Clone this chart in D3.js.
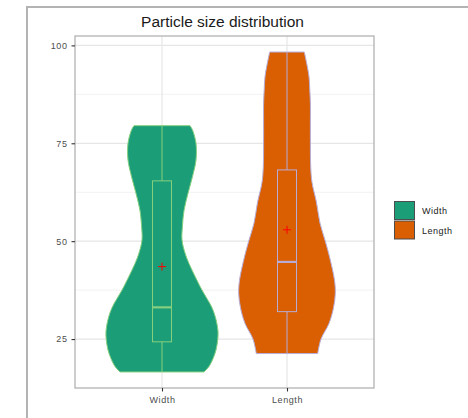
<!DOCTYPE html>
<html lang="en">
<head>
<meta charset="utf-8">
<title>Particle size distribution</title>
<script src="https://cdn.jsdelivr.net/npm/d3@7"></script>
<style>
  body { margin: 0; background: #fff; }
  svg { font-family: "Liberation Sans", Arial, sans-serif; }
</style>
</head>
<body>
<script>
// categories and colours
var groups = ["Width", "Length"];
var fills = ["#1b9e77", "#d95f02"];
var outlines = ["#86cf7f", "#b7acd8"];

// violin outlines: [value, half width (px)]
var widthDensity = [[16.6,42],[18,47],[20,51],[22.2,54],[25,55.8],[27,56],[30,54],[33,50],[37.5,40],[40,35],
  [44.3,27],[47,23],[50.3,20],[54,20.5],[57.8,22],[62.2,26],[66.5,30.5],[70.7,34],[75,34],[78.4,30.5],[79.5,28]];
var lengthDensity = [[21.3,30.7],[25,34],[29,42],[33,46.5],[36.6,48.3],[40,47.5],[46,42.5],[50,38.3],[54.6,33],
  [60,29.4],[65,25],[69,23.7],[75,23.4],[80,23.4],[85,23.4],[88.6,22.8],[92,22],[95,20],[98.3,17.3]];
var densities = [widthDensity, lengthDensity];

// box statistics: min, q1, median, q3, max, mean
var boxMin = [16.6, 21.3];
var boxQ1 = [24.3, 32.0];
var boxMedian = [33.1, 44.7];
var boxQ3 = [65.4, 68.2];
var boxMax = [79.5, 98.3];
var boxMean = [43.5, 52.9];

var yTicks = [25, 50, 75, 100];
var yMinor = [37.5, 62.5, 87.5];

var W = 468, H = 418;
var panel = {left: 75, right: 374, top: 36, bottom: 388};

var svg = d3.select("body").append("svg").attr("width", W).attr("height", H);

// outer frame
svg.append("rect").attr("x", 27).attr("y", 7).attr("width", 600).attr("height", 600)
  .attr("fill", "none").attr("stroke", "#b3b3b3").attr("stroke-width", 2);

var y = d3.scaleLinear().domain([12.5, 102.4]).range([panel.bottom, panel.top]);
var x = d3.scalePoint().domain(groups).range([panel.left, panel.right]).padding(0.696);
var hw = d3.scaleLinear().domain([0, 1]).range([0, 1]); // half widths already in px units

// grid
var g = svg.append("g");
g.selectAll(".minor").data(yMinor).enter().append("line")
  .attr("x1", panel.left).attr("x2", panel.right)
  .attr("y1", function(d) { return y(d); }).attr("y2", function(d) { return y(d); })
  .attr("stroke", "#f2f2f2").attr("stroke-width", 1);
g.selectAll(".major").data(yTicks).enter().append("line")
  .attr("x1", panel.left).attr("x2", panel.right)
  .attr("y1", function(d) { return y(d); }).attr("y2", function(d) { return y(d); })
  .attr("stroke", "#e6e6e6").attr("stroke-width", 1.2);
g.selectAll(".vmajor").data(groups).enter().append("line")
  .attr("y1", panel.top).attr("y2", panel.bottom)
  .attr("x1", function(d) { return x(d); }).attr("x2", function(d) { return x(d); })
  .attr("stroke", "#e6e6e6").attr("stroke-width", 1.2);

// violins
groups.forEach(function(name, i) {
  var cx = x(name);
  var area = d3.area()
    .y(function(d) { return y(d[0]); })
    .x0(function(d) { return cx - hw(d[1]); })
    .x1(function(d) { return cx + hw(d[1]); })
    .curve(d3.curveCatmullRom);
  svg.append("path").datum(densities[i]).attr("d", area)
    .attr("fill", fills[i]).attr("stroke", outlines[i]).attr("stroke-width", 1);

  var bw = 9.5;
  // whiskers
  svg.append("line").attr("x1", cx).attr("x2", cx)
    .attr("y1", y(boxQ3[i])).attr("y2", y(boxMax[i]))
    .attr("stroke", outlines[i]).attr("stroke-width", 1);
  svg.append("line").attr("x1", cx).attr("x2", cx)
    .attr("y1", y(boxQ1[i])).attr("y2", y(boxMin[i]))
    .attr("stroke", outlines[i]).attr("stroke-width", 1);
  // box
  svg.append("rect").attr("x", cx - bw).attr("width", 2 * bw)
    .attr("y", y(boxQ3[i])).attr("height", y(boxQ1[i]) - y(boxQ3[i]))
    .attr("fill", "none").attr("stroke", outlines[i]).attr("stroke-width", 1);
  svg.append("line").attr("x1", cx - bw).attr("x2", cx + bw)
    .attr("y1", y(boxMedian[i])).attr("y2", y(boxMedian[i]))
    .attr("stroke", outlines[i]).attr("stroke-width", 2.2);
  // mean cross
  var my = y(boxMean[i]);
  svg.append("path").attr("d", "M" + (cx - 4) + "," + my + "H" + (cx + 4) + "M" + cx + "," + (my - 4) + "V" + (my + 4))
    .attr("stroke", "#ff0000").attr("stroke-width", 1);
});

// panel border
svg.append("rect").attr("x", panel.left).attr("y", panel.top)
  .attr("width", panel.right - panel.left).attr("height", panel.bottom - panel.top)
  .attr("fill", "none").attr("stroke", "#b3b3b3").attr("stroke-width", 1.3);

// axes
var yAxis = svg.append("g").attr("transform", "translate(" + panel.left + ",0)")
  .call(d3.axisLeft(y).tickValues(yTicks).tickSize(3.5).tickPadding(4));
var xAxis = svg.append("g").attr("transform", "translate(0," + panel.bottom + ")")
  .call(d3.axisBottom(x).tickSize(3.5).tickPadding(5));
[yAxis, xAxis].forEach(function(a) {
  a.select(".domain").remove();
  a.selectAll(".tick line").attr("stroke", "#333").attr("stroke-width", 1.1);
  a.selectAll(".tick text").attr("fill", "#4d4d4d").attr("font-size", "9px")
    .attr("font-family", "Liberation Sans, Arial, sans-serif").style("letter-spacing", "0.6px");
});

// title
svg.append("text").attr("x", 222.5).attr("y", 27)
  .attr("text-anchor", "middle").attr("font-size", "15.5px").attr("fill", "#1a1a1a")
  .text("Particle size distribution");

// legend
var leg = svg.append("g").attr("transform", "translate(394,201)");
groups.forEach(function(name, i) {
  leg.append("rect").attr("x", 0.5).attr("y", i * 19.5 + 0.5).attr("width", 20).attr("height", 18)
    .attr("fill", fills[i]).attr("stroke", "#4d4d4d").attr("stroke-width", 1);
  leg.append("text").attr("x", 28).attr("y", i * 19.5 + 13)
    .attr("font-size", "9px").attr("fill", "#1a1a1a").style("letter-spacing", "0.5px")
    .text(name);
});
</script>
</body>
</html>
